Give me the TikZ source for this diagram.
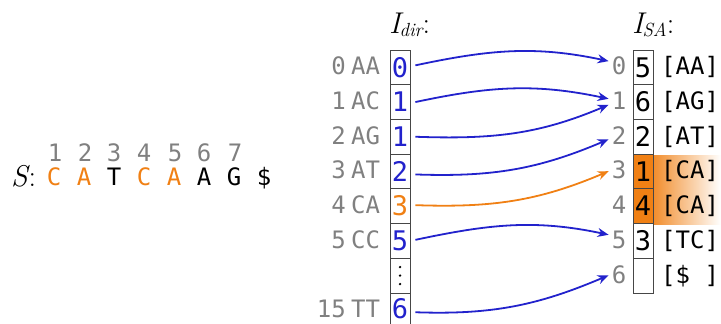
\documentclass[tikz,border=0pt]{standalone}
\usepackage{fontspec}
\setmonofont{DejaVu Sans Mono}
\usetikzlibrary{arrows.meta}
\definecolor{myblue}{RGB}{34,34,204}
\definecolor{myorange}{RGB}{240,128,20}
\definecolor{mygrey}{RGB}{128,128,128}
\definecolor{boxline}{RGB}{70,70,70}
\newcommand{\mysub}[1]{\kern-1pt\raisebox{-3pt}{\fontsize{19}{19}\selectfont\itshape #1}}
\tikzset{
  lbl/.style={font=\fontsize{24}{24}\ttfamily, text=mygrey, inner sep=0pt, anchor=base},
  chr/.style={font=\fontsize{24}{24}\ttfamily, inner sep=0pt, anchor=base},
  cell/.style={draw=boxline, line width=0.8pt, minimum width=20pt, minimum height=34.7pt,
     inner sep=0pt, font=\fontsize{27}{27}\ttfamily},
  arr/.style={line width=1.8pt, draw=myblue, -{Stealth[length=11pt,width=9pt]}},
  oarr/.style={arr, draw=myorange},
  flat/.style={out=12, in=168},
  rise/.style={out=-2, in=203},
  title/.style={font=\fontsize{30}{30}\selectfont, inner sep=0pt, anchor=base west}
}
\begin{document}
\begin{tikzpicture}[x=1pt,y=1pt]
\useasboundingbox (0,0) rectangle (721,-324);

% ---- S string ----
\node[font=\fontsize{30}{30}\selectfont, inner sep=0pt, anchor=base west] (S) at (11,-186) {\itshape S\upshape\kern1pt:};
\node[chr, text=myorange] (c1) at (54,-185) {C};
\node[chr, text=myorange] (c2) at (84,-185) {A};
\node[chr] (c3) at (114,-185) {T};
\node[chr, text=myorange] (c4) at (144,-185) {C};
\node[chr, text=myorange] (c5) at (174,-185) {A};
\node[chr] (c6) at (204,-185) {A};
\node[chr] (c7) at (234,-185) {G};
\node[chr] (c8) at (264,-185) {\$};
\foreach \i/\x in {1/55,2/85,3/114,4/144,5/175,6/204,7/235}
  \node[lbl] (n\i) at (\x,-161) {\i};

% ---- titles ----
\node[title] (tdir) at (389,-33) {\itshape I\mysub{dir}\upshape :};
\node[title] (tsa) at (632,-33) {\itshape I\mysub{SA}\upshape :};

% ---- I_dir column ----
\foreach \r/\k/\s/\v/\c in {0/0/AA/0/myblue, 1/1/AC/1/myblue, 2/2/AG/1/myblue,
    3/3/AT/2/myblue, 4/4/CA/3/myorange, 5/5/CC/5/myblue, 7/15/TT/{\raisebox{3pt}{6}}/myblue}{
  \pgfmathsetmacro{\yc}{-(67.35+34.7*\r)}
  \node[cell, text=\c] (d\r) at (400,\yc) {\v};
  \node[lbl, anchor=base east] (k\r) at (346,\yc-7.5) {\k};
  \node[lbl, anchor=base west] (p\r) at (351,\yc-7.5) {\s};
}
\node[cell] (d6) at (400,-275.55) {};
\fill (d6.center) ++(0,8.5) circle (1.3pt);
\fill (d6.center) circle (1.3pt);
\fill (d6.center) ++(0,-8.5) circle (1.3pt);

% ---- I_SA column ----
\shade[left color=myorange!90, right color=white] (653,-155) rectangle (721,-224.1);
\foreach \r/\v/\b/\f in {0/5/[AA]/white, 1/6/[AG]/white, 2/2/[AT]/white, 3/1/[CA]/myorange,
    4/4/[CA]/myorange, 5/3/[TC]/white, 6//{[\$ ]}/white}{
  \pgfmathsetmacro{\yc}{-(67.35+34.7*\r)}
  \node[cell, fill=\f, text=black] (a\r) at (643,\yc) {\v};
  \node[lbl] (s\r) at (619,\yc-7.5) {\r};
  \node[chr, anchor=base west] (b\r) at (661,\yc-7.5) {\b};
}

% ---- arrows ----
\draw[arr] ([shift={(5pt,2pt)}]d0.east) to[flat] ([shift={(-3pt,5pt)}]s0.west);
\draw[arr] ([shift={(5pt,0pt)}]d1.east) to[flat] ([shift={(-3pt,2pt)}]s1.west);
\draw[arr] ([shift={(5pt,0pt)}]d2.east) to[rise] ([shift={(-3pt,-4pt)}]s1.west);
\draw[arr] ([shift={(5pt,-3pt)}]d3.east) to[rise] ([shift={(-3pt,-4pt)}]s2.west);
\draw[oarr] ([shift={(5pt,1pt)}]d4.east) to[rise] ([shift={(-3pt,-1pt)}]s3.west);
\draw[arr] ([shift={(5pt,1pt)}]d5.east) to[flat] ([shift={(-3pt,5pt)}]s5.west);
\draw[arr] ([shift={(5pt,-2pt)}]d7.east) to[rise] ([shift={(-3pt,-1pt)}]s6.west);
\end{tikzpicture}
\end{document}
